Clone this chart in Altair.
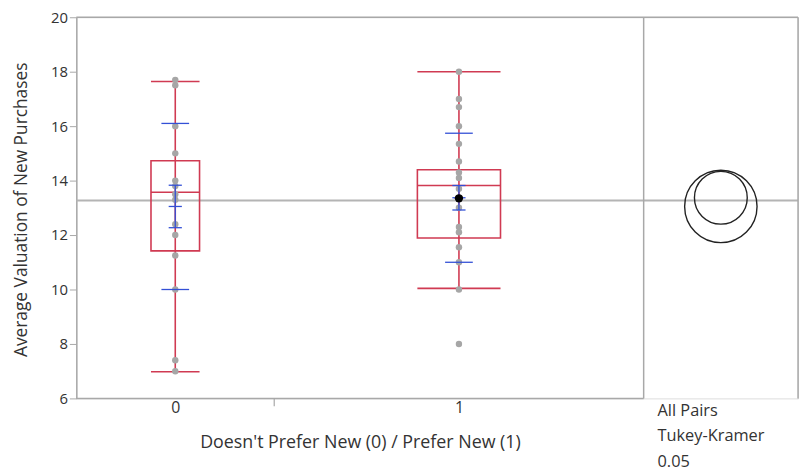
import altair as alt
import pandas as pd
import numpy as np

# ---------------- data ----------------
GROUPS = ["0", "1"]
GROUP_N = [15, 28]                 # JMP widths proportional to n
Q1 = [11.42, 11.89]
MEDIAN = [13.57, 13.82]
Q3 = [14.73, 14.40]
WHISK_LO = [6.98, 10.04]
WHISK_HI = [17.64, 18.00]
MEAN = [13.05, 13.37]
SD = [3.05, 2.37]
SE = [0.78, 0.45]
GRAND_MEAN = 13.27
CIRCLE_R = [1.33, 0.97]            # comparison circle radii (y units)

VALUES_0 = [17.7, 17.5, 16.0, 15.0, 14.0, 13.8, 13.5, 13.3, 12.4, 12.0, 11.25, 10.0, 7.4, 7.0]
VALUES_1 = [18.0, 17.0, 16.7, 16.0, 15.35, 14.7, 14.3, 14.1, 13.7, 13.0, 12.3, 12.1, 11.55, 11.0, 10.0, 8.0]
HIGHLIGHT_GROUP = ["1"]
HIGHLIGHT_VALUE = [13.35]

Y_TICKS = [6, 8, 10, 12, 14, 16, 18, 20]
X_TITLE = "Doesn't Prefer New (0) / Prefer New (1)"
Y_TITLE = "Average Valuation of New Purchases"
PANEL_TEXT = ["All Pairs", "Tukey-Kramer", "0.05"]

# ---------------- style ----------------
W, H = 729, 385
Y_MIN, Y_MAX = 6, 20
PANEL_UNITS = 11.7
BOX_HALF = [1.84, 3.15]
SD_HALF = 1.05
SE_HALF = 0.5
RED = "#D03A52"
BLUE = "#3350D6"
GREY_PT = "#A6A6A6"
FRAME = "#A8A8A8"
FONT = "Open Sans"
TXT = "#333333"

n = np.array(GROUP_N, dtype=float)
cum = np.cumsum(n)
center = cum - n / 2
total = float(cum[-1])
x_max = total + PANEL_UNITS
circle_x = total + PANEL_UNITS / 2

g = pd.DataFrame({
    "group": GROUPS, "center": center,
    "left": center - np.array(BOX_HALF), "right": center + np.array(BOX_HALF),
    "q1": Q1, "median": MEDIAN, "q3": Q3, "lo": WHISK_LO, "hi": WHISK_HI,
    "mean": MEAN, "sd": SD, "se": SE,
})
g["sd_hi"] = g["mean"] + g["sd"]
g["sd_lo"] = g["mean"] - g["sd"]
g["se_hi"] = g["mean"] + g["se"]
g["se_lo"] = g["mean"] - g["se"]
g["sdl"] = g["center"] - SD_HALF
g["sdr"] = g["center"] + SD_HALF
g["sel"] = g["center"] - SE_HALF
g["ser"] = g["center"] + SE_HALF

pts = pd.concat([
    pd.DataFrame({"group": "0", "value": VALUES_0}),
    pd.DataFrame({"group": "1", "value": VALUES_1}),
]).merge(g[["group", "center"]], on="group")
hl = pd.DataFrame({"group": HIGHLIGHT_GROUP, "value": HIGHLIGHT_VALUE}).merge(g[["group", "center"]], on="group")

ppu = H / (Y_MAX - Y_MIN)
circ = pd.DataFrame({"group": GROUPS, "mean": MEAN, "cx": circle_x,
                     "size": [(2 * r * ppu) ** 2 for r in CIRCLE_R]})

xs = alt.Scale(domain=[0, x_max], nice=False, zero=False)
ys = alt.Scale(domain=[Y_MIN, Y_MAX], nice=False, zero=False)

label_expr = " : ".join(
    [f"datum.value == {c} ? '{lab}'" for c, lab in zip(center, GROUPS)] + ["''"])
xax = alt.Axis(values=list(center), labelExpr=label_expr, ticks=False, domain=False,
               grid=False, labelFontSize=16, labelColor=TXT, labelFont=FONT,
               labelPadding=1, title=X_TITLE, titleFont=FONT, titleFontSize=18,
               titleFontWeight="normal", titleColor=TXT,
               titleX=(total / x_max) * W / 2, titleY=36, titleAnchor="middle")
yax = alt.Axis(values=Y_TICKS, grid=False, domainColor=FRAME, domainWidth=1.5,
               tickColor=FRAME, tickSize=7, labelFontSize=15, labelColor=TXT,
               labelFont=FONT, labelPadding=2, title=Y_TITLE, titleFont=FONT,
               titleFontSize=17.5, titleFontWeight="normal", titleColor=TXT,
               titleX=-55, titleY=194, titleBaseline="middle", titleAngle=-90)


def X(field=None, datum=None):
    if datum is not None:
        return alt.X(datum=datum, type="quantitative", scale=xs, axis=xax)
    return alt.X(field, type="quantitative", scale=xs, axis=xax)


def Y(field=None, datum=None):
    if datum is not None:
        return alt.Y(datum=datum, type="quantitative", scale=ys, axis=yax)
    return alt.Y(field, type="quantitative", scale=ys, axis=yax)


base_g = alt.Chart(g)

# frame pieces
grand = alt.Chart(pd.DataFrame({"m": [GRAND_MEAN]})).mark_rule(color="#B4B4B4", strokeWidth=2.2).encode(
    x=alt.value(0), x2=alt.value(W), y=Y("m"))
sep = alt.Chart(pd.DataFrame({"x": [total]})).mark_rule(color=FRAME, strokeWidth=1.5).encode(
    x=X("x"), y=alt.value(0), y2=alt.value(H))
bottom = alt.Chart(pd.DataFrame({"a": [0.0], "b": [total], "y": [Y_MIN]})).mark_rule(
    color=FRAME, strokeWidth=1.5).encode(x=X("a"), x2="b", y=Y("y"))
top = alt.Chart(pd.DataFrame({"y": [Y_MAX]})).mark_rule(color=FRAME, strokeWidth=1.5).encode(
    x=alt.value(0), x2=alt.value(W), y=Y("y"))
right = alt.Chart(pd.DataFrame({"x": [x_max]})).mark_rule(color=FRAME, strokeWidth=1.5).encode(
    x=X("x"), y=alt.value(0), y2=alt.value(H))
xtick = alt.Chart(pd.DataFrame({"x": [float(cum[0])]})).mark_rule(color=FRAME, strokeWidth=1.2).encode(
    x=X("x"), y=alt.value(H), y2=alt.value(H + 8))

# box plots
whisk = base_g.mark_rule(color=RED, strokeWidth=1.6).encode(x=X("center"), y=Y("lo"), y2="hi")
cap_lo = base_g.mark_rule(color=RED, strokeWidth=1.6).encode(x=X("left"), x2="right", y=Y("lo"))
cap_hi = base_g.mark_rule(color=RED, strokeWidth=1.6).encode(x=X("left"), x2="right", y=Y("hi"))
box = base_g.mark_rect(fill="white", fillOpacity=0, stroke=RED, strokeWidth=1.6).encode(
    x=X("left"), x2="right", y=Y("q1"), y2="q3")
med = base_g.mark_rule(color=RED, strokeWidth=1.6).encode(x=X("left"), x2="right", y=Y("median"))

# points
points = alt.Chart(pts).mark_circle(color=GREY_PT, opacity=1, size=42).encode(x=X("center"), y=Y("value"))

# mean / error bars / sd lines
sd_hi = base_g.mark_rule(color=BLUE, strokeWidth=1.3).encode(x=X("sdl"), x2="sdr", y=Y("sd_hi"))
sd_lo = base_g.mark_rule(color=BLUE, strokeWidth=1.3).encode(x=X("sdl"), x2="sdr", y=Y("sd_lo"))
se_v = base_g.mark_rule(color=BLUE, strokeWidth=1.3).encode(x=X("center"), y=Y("se_lo"), y2="se_hi")
se_hi = base_g.mark_rule(color=BLUE, strokeWidth=1.3).encode(x=X("sel"), x2="ser", y=Y("se_hi"))
se_lo = base_g.mark_rule(color=BLUE, strokeWidth=1.3).encode(x=X("sel"), x2="ser", y=Y("se_lo"))
mean_l = base_g.mark_rule(color=BLUE, strokeWidth=1.3).encode(x=X("sel"), x2="ser", y=Y("mean"))

black = alt.Chart(hl).mark_point(shape="circle", filled=True, color="black", opacity=1, size=70).encode(
    x=X("center"), y=Y("value"))

# comparison circles
circles = alt.Chart(circ).mark_point(shape="circle", filled=False, color="#222222",
                                     strokeWidth=1.4, opacity=1).encode(
    x=X("cx"), y=Y("mean"), size=alt.Size("size:Q", scale=None, legend=None))

panel_text = alt.Chart(pd.DataFrame({"t": [PANEL_TEXT]})).mark_text(
    align="left", baseline="top", font=FONT, fontSize=16.5, color=TXT, lineHeight=25.5).encode(
    x=X(datum=total), xOffset=alt.value(14), y=alt.value(H + 5), text="t")

chart = alt.layer(
    grand, sep, bottom, top, right, xtick,
    whisk, cap_lo, cap_hi, box, med,
    points,
    sd_hi, sd_lo, se_v, se_hi, se_lo, mean_l,
    black,
    circles, panel_text,
).properties(
    width=W, height=H,
    autosize=alt.AutoSizeParams(type="none"),
    padding={"left": 69, "top": 7, "right": 3, "bottom": 72},
).configure_view(stroke=None).configure(background="white")

chart.save("out.html", embed_options={"renderer": "svg", "actions": False})
